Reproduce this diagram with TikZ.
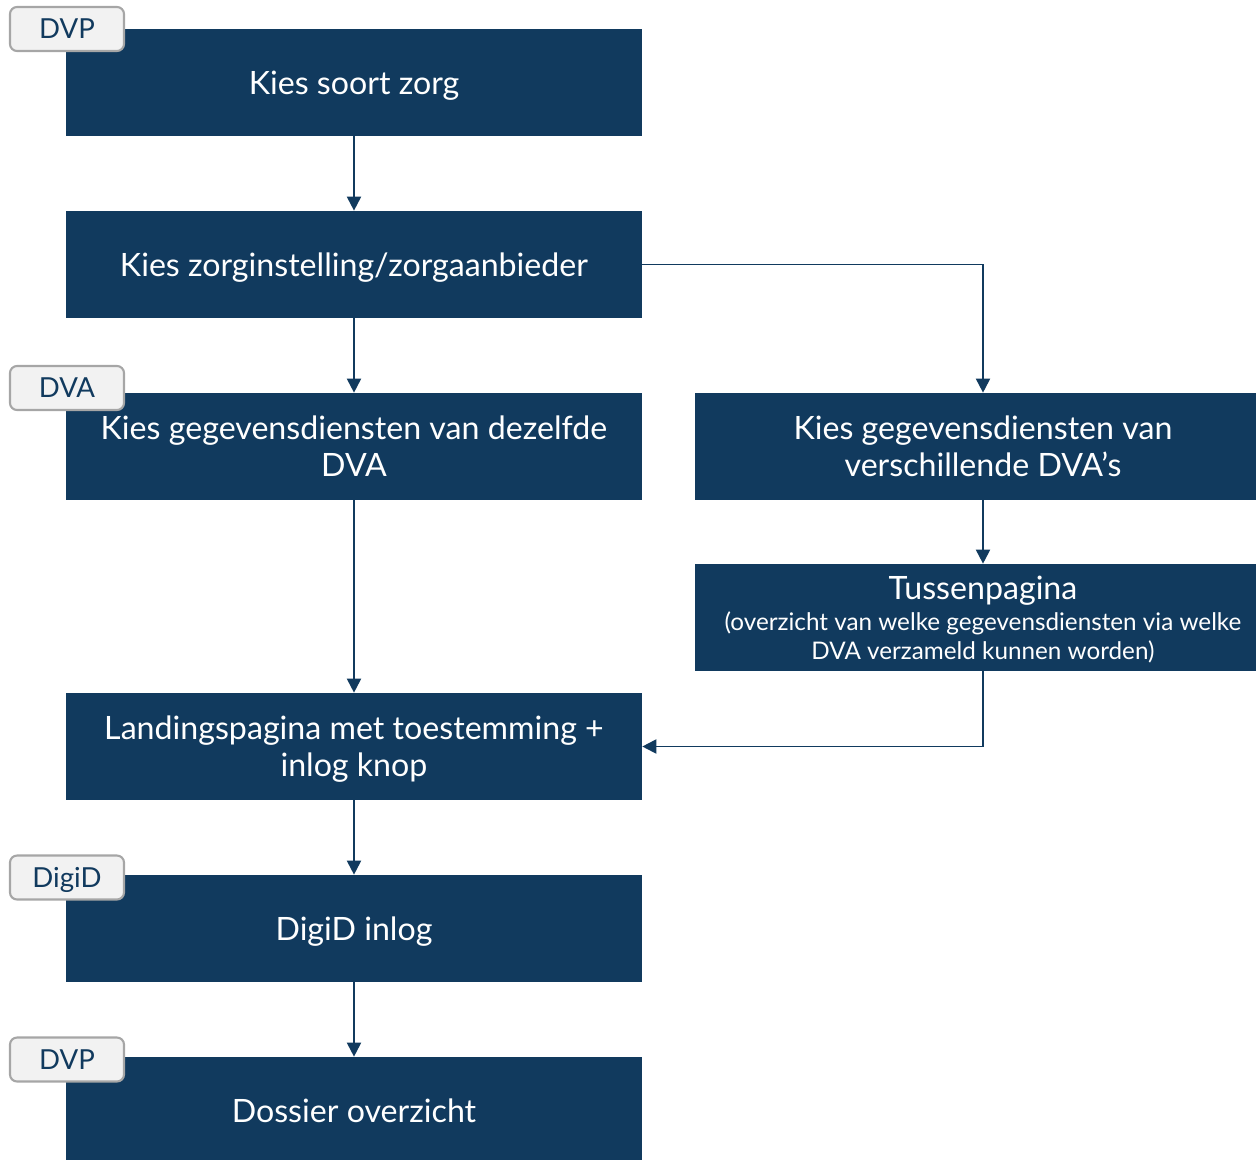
\documentclass[tikz,border=0pt]{standalone}
\usepackage{fontspec}
\setmainfont{Lato}
\usetikzlibrary{arrows.meta}
\definecolor{zorgblauw}{HTML}{113A5E}
\definecolor{labelgrijs}{HTML}{F2F2F2}
\definecolor{randgrijs}{HTML}{A6A6A6}
\newcommand{\klein}{\fontsize{13.8}{16.4}\selectfont}

\begin{document}
\begin{tikzpicture}[x=0.02cm,y=-0.02cm,
    stap/.style={fill=zorgblauw, text=white, align=center, inner sep=0pt,
      minimum width=11.52cm, minimum height=2.14cm, text depth=0pt,
      font=\fontsize{18.3}{21}\selectfont},
    label/.style={fill=labelgrijs, draw=randgrijs, line width=1.2pt,
      rounded corners=4pt, text=zorgblauw, inner sep=0pt, text depth=0pt,
      minimum width=2.28cm, minimum height=0.88cm,
      font=\fontsize{15.7}{18}\selectfont},
    pijl/.style={draw=zorgblauw, line width=1.1pt,
      -{Triangle[length=8pt,width=8pt]}}]
    \clip (0,0) rectangle (1256,1159);

    % linker kolom
    \node[stap] (soort) at (354,82.5) {Kies soort zorg};
    \node[stap] (instelling) at (354,264.5) {Kies zorginstelling/zorgaanbieder};
    \node[stap] (zelfde) at (354,446.5) {Kies gegevensdiensten van dezelfde\\DVA};
    \node[stap] (landing) at (354,746.5) {Landingspagina met toestemming +\\inlog knop};
    \node[stap] (digid) at (354,928.5) {DigiD inlog};
    \node[stap] (dossier) at (354,1110.5) {Dossier overzicht};

    % rechter kolom
    \node[stap] (verschil) at (983,446.5) {Kies gegevensdiensten van\\verschillende DVA’s};
    \node[stap, font=\fontsize{18.3}{18.7}\selectfont] (tussen) at (983,617.5)
      {Tussenpagina\\[-1.1pt]{\klein(overzicht van welke gegevensdiensten via welke}\\[-2.3pt]{\klein DVA verzameld kunnen worden)}};

    % labels
    \node[label] (dvp1) at (67,29) {DVP};
    \node[label] (dva) at (67,388) {DVA};
    \node[label] (digidlabel) at (67,877.5) {DigiD};
    \node[label] (dvp2) at (67,1059.5) {DVP};

    % pijlen
    \draw[pijl] (soort) -- (instelling);
    \draw[pijl] (instelling) -- (zelfde);
    \draw[pijl] (instelling.east) -| (verschil.north);
    \draw[pijl] (verschil) -- (tussen);
    \draw[pijl] (zelfde) -- (landing);
    \draw[pijl] (tussen.south) |- (landing.east);
    \draw[pijl] (landing) -- (digid);
    \draw[pijl] (digid) -- (dossier);
\end{tikzpicture}
\end{document}
